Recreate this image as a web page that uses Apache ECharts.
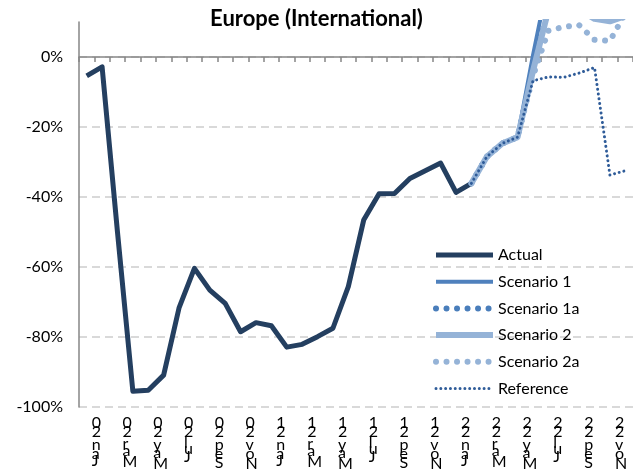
<!DOCTYPE html>
<html>
<head>
<meta charset="utf-8">
<script src="https://cdn.jsdelivr.net/npm/echarts@6/dist/echarts.min.js"></script>
<style>
  html, body { margin: 0; padding: 0; background: #fff; }
  #chart { width: 633px; height: 474px; }
</style>
</head>
<body>
<div id="chart"></div>
<script>
// Monthly categories, Jan 2020 to Dec 2022
const months = [
  'Jan 20','Feb 20','Mar 20','Apr 20','May 20','Jun 20','Jul 20','Aug 20','Sep 20','Oct 20','Nov 20','Dec 20',
  'Jan 21','Feb 21','Mar 21','Apr 21','May 21','Jun 21','Jul 21','Aug 21','Sep 21','Oct 21','Nov 21','Dec 21',
  'Jan 22','Feb 22','Mar 22','Apr 22','May 22','Jun 22','Jul 22','Aug 22','Sep 22','Oct 22','Nov 22','Dec 22'
];

// Change versus 2019, in percent
const actual = [
  -5.4, -2.8, -50.0, -95.5, -95.2, -90.9, -71.7, -60.4, -66.6, -70.4, -78.5, -75.9,
  -76.8, -82.9, -82.1, -79.9, -77.5, -65.6, -46.6, -39.1, -39.0, -34.7, -32.5, -30.3,
  -38.7, -36.1, null, null, null, null, null, null, null, null, null, null
];
const scenario1 = [
  null, null, null, null, null, null, null, null, null, null, null, null,
  null, null, null, null, null, null, null, null, null, null, null, null,
  null, -36.1, -28.5, -24.7, -22.9, 0.5, 22, 26, 29, 31, 33, 35
];
const scenario1a = [
  null, null, null, null, null, null, null, null, null, null, null, null,
  null, null, null, null, null, null, null, null, null, null, null, null,
  null, -36.1, -28.5, -24.7, -22.9, -4.0, 14, 18, 20, 21, 22, 23
];
const scenario2 = [
  null, null, null, null, null, null, null, null, null, null, null, null,
  null, null, null, null, null, null, null, null, null, null, null, null,
  null, -36.1, -28.5, -24.7, -22.9, -4.0, 13.4, 15.0, 13.5, 10.9, 10.2, 11.7
];
const scenario2a = [
  null, null, null, null, null, null, null, null, null, null, null, null,
  null, null, null, null, null, null, null, null, null, null, null, null,
  null, -36.1, -28.5, -24.7, -22.9, -5.5, 7.5, 8.6, 9.1, 4.9, 4.6, 12.5
];
const reference = [
  null, null, null, null, null, null, null, null, null, null, null, null,
  null, null, null, null, null, null, null, null, null, null, null, null,
  null, -36.1, -28.5, -24.7, -22.9, -6.8, -5.7, -5.8, -4.6, -3.0, -33.7, -32.5
];

const yTicks = [-100, -80, -60, -40, -20, 0];

const FONT = 'Lato, "Open Sans", sans-serif';
const LABEL_SIZE = 16;

// Month labels are drawn as a column of upright glyphs, read bottom to top;
// each glyph takes as much vertical room as its own advance width.
const measureCtx = document.createElement('canvas').getContext('2d');
measureCtx.font = LABEL_SIZE + 'px Lato';
const rich = {};
months.forEach(function (m) {
  m.split('').forEach(function (ch) {
    const key = 'k' + ch.charCodeAt(0);
    if (!rich[key]) {
      rich[key] = {
        fontFamily: FONT,
        fontSize: LABEL_SIZE,
        color: '#000',
        lineHeight: Math.max(3, measureCtx.measureText(ch).width)
      };
    }
  });
});
function stacked(label) {
  return label.split('').reverse().map(function (ch) {
    return '{k' + ch.charCodeAt(0) + '|' + ch + '}';
  }).join('\n');
}

function roundDots(width, gap) {
  return { width: width, type: [0.01, gap], cap: 'round' };
}

const chart = echarts.init(document.getElementById('chart'), null, { renderer: 'canvas' });

const common = {
  type: 'line',
  symbol: 'none',
  showSymbol: false,
  clip: true,
  animation: false,
  emphasis: { disabled: true },
  xAxisIndex: 0,
  yAxisIndex: 0
};

chart.setOption({
  animation: false,
  textStyle: { fontFamily: FONT },
  title: {
    text: 'Europe (International)',
    left: 'center',
    top: 0,
    padding: [8, 0, 0, 15],
    textStyle: { fontFamily: FONT, fontSize: 22, fontWeight: 'bold', color: '#000' }
  },
  grid: { left: 79, top: 22, width: 556.5, bottom: 67, containLabel: false },
  legend: {
    orient: 'vertical',
    left: 428,
    top: 242,
    itemWidth: 57,
    itemHeight: 14,
    itemGap: 10.7,
    selectedMode: false,
    itemStyle: { opacity: 0 },
    lineStyle: { width: 'inherit', type: 'inherit', cap: 'inherit' },
    textStyle: { fontFamily: FONT, fontSize: 16, color: '#000' },
    data: ['Actual', 'Scenario 1', 'Scenario 1a', 'Scenario 2', 'Scenario 2a', 'Reference']
  },
  xAxis: [
    {
      type: 'category',
      data: months,
      boundaryGap: true,
      position: 'bottom',
      axisLine: { show: true, onZero: true, lineStyle: { color: '#868686', width: 1.5 } },
      axisTick: { show: true, interval: 0, length: 5, lineStyle: { color: '#868686', width: 1.5 } },
      axisLabel: { show: false },
      splitLine: { show: false }
    },
    {
      type: 'category',
      data: months,
      boundaryGap: true,
      position: 'bottom',
      axisLine: { show: false, onZero: false },
      axisTick: { show: false },
      axisLabel: {
        show: true,
        interval: 1,
        margin: 11,
        align: 'left',
        padding: [0, 0, 0, 5],
        formatter: function (v) { return stacked(v); },
        rich: rich
      },
      splitLine: { show: false }
    }
  ],
  yAxis: {
    type: 'value',
    min: -100,
    max: 10,
    interval: 20,
    axisLine: { show: true, lineStyle: { color: '#868686', width: 1.5 } },
    axisTick: { show: false },
    axisLabel: {
      showMaxLabel: false,
      margin: 16,
      fontFamily: FONT,
      fontSize: 16,
      color: '#000',
      formatter: function (v) { return yTicks.indexOf(v) >= 0 ? v + '%' : ''; }
    },
    splitLine: {
      show: true,
      showMaxLine: false,
      lineStyle: { color: '#D9D9D9', width: 2, type: [8, 5] }
    }
  },
  series: [
    Object.assign({}, common, {
      name: 'Actual', data: actual, color: '#243F60', z: 2,
      lineStyle: { width: 5, join: 'round' }
    }),
    Object.assign({}, common, {
      name: 'Scenario 1', data: scenario1, color: '#4F81BD', z: 3,
      lineStyle: { width: 4, join: 'round' }
    }),
    Object.assign({}, common, {
      name: 'Scenario 1a', data: scenario1a, color: '#4A7EBB', z: 4,
      lineStyle: roundDots(6, 10.5)
    }),
    Object.assign({}, common, {
      name: 'Scenario 2', data: scenario2, color: '#95B3D7', z: 5,
      lineStyle: { width: 6, join: 'round' }
    }),
    Object.assign({}, common, {
      name: 'Scenario 2a', data: scenario2a, color: '#95B3D7', z: 6,
      lineStyle: roundDots(6, 10.5)
    }),
    Object.assign({}, common, {
      name: 'Reference', data: reference, color: '#2F5C99', z: 7,
      lineStyle: roundDots(3, 4.8)
    })
  ]
});
</script>
</body>
</html>
